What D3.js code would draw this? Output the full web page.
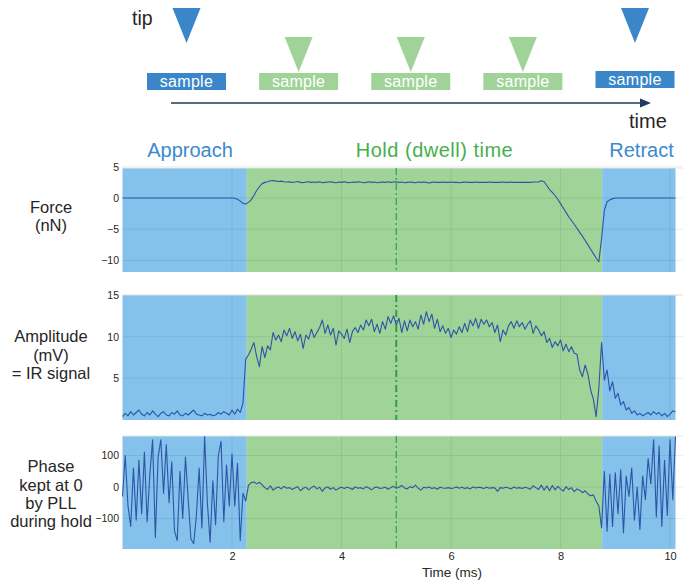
<!DOCTYPE html>
<html><head><meta charset="utf-8">
<script src="https://cdn.jsdelivr.net/npm/d3@7"></script>
<style>body{margin:0;background:#fff} text{font-family:"Liberation Sans",Arial,sans-serif}</style>
</head><body><svg id="c" width="687" height="583"></svg>
<script>
// ---------------- DATA ----------------
const dt = 0.05; // ms between samples
const force = [
 0,0,0,0,0,0,0,0,0,0,0,0,0,0,0,0,0,0,0,0,0,0,0,0,0,0,0,0,0,0,0,0,0,0,0,0,0,0,0,0,
 0,-0.05,-0.2,-0.5,-0.85,-0.95,-0.7,-0.3,0.4,1.2,1.8,2.3,2.5,2.6,2.75,2.8,2.7,2.65,2.7,2.6,
 2.55,2.6,2.5,2.55,2.65,2.5,2.45,2.55,2.6,2.5,2.55,2.5,2.6,2.45,2.5,2.55,2.6,2.5,2.45,2.55,
 2.5,2.6,2.5,2.45,2.55,2.5,2.6,2.55,2.45,2.5,2.6,2.5,2.55,2.45,2.5,2.55,2.5,2.6,2.5,2.55,
 2.6,2.5,2.55,2.45,2.5,2.55,2.5,2.45,2.55,2.5,2.55,2.5,2.4,2.5,2.55,2.5,2.5,2.55,2.5,2.5,
 2.55,2.5,2.5,2.45,2.5,2.55,2.5,2.5,2.5,2.55,2.5,2.5,2.5,2.5,2.55,2.5,2.5,2.5,2.5,2.55,
 2.5,2.5,2.55,2.5,2.5,2.5,2.5,2.5,2.5,2.5,2.55,2.55,2.55,2.75,2.6,2.0,1.35,0.9,0.4,-0.2,
 -0.9,-1.6,-2.3,-3.0,-3.6,-4.2,-4.85,-5.5,-6.1,-6.8,-7.5,-8.2,-8.9,-9.6,-10.2,-6.5,-2.0,-0.6,-0.3,-0.1,
 0,0,0,0,0,0,0,0,0,0,0,0,0,0,0,0,0,0,0,0,0,0,0
];
const amplitude = [
 0.4,0.8,0.5,1.0,0.6,0.9,1.2,0.7,0.5,0.9,0.6,1.1,0.7,0.4,0.8,1.0,0.6,0.5,0.9,0.7,1.1,0.6,
 0.5,0.8,0.6,0.9,1.2,0.7,0.6,0.5,0.8,0.6,0.7,0.5,0.6,0.9,0.7,1.0,0.8,0.6,1.2,0.7,1.3,0.9,
 2.0,7.3,
 7.8,8.5,9.3,7.6,6.4,8.8,7.5,8.9,8.4,10.5,9.6,10.2,9.4,10.8,10.1,11.0,9.8,10.6,9.5,10.3,
 8.6,10.2,9.7,10.9,9.9,10.5,11.1,12.0,10.4,11.4,10.2,11.0,9.0,10.7,10.3,9.8,10.9,9.3,10.6,11.1,
 10.5,11.4,10.8,12.0,11.3,12.1,10.6,11.5,10.4,11.8,10.9,12.4,11.6,12.5,11.4,12.2,10.5,11.9,10.7,12.0,
 11.2,11.8,10.9,12.6,11.5,13.0,11.8,12.7,11.0,12.1,10.6,11.3,10.4,11.0,9.9,10.8,10.3,11.2,10.5,11.6,
 10.6,12.0,11.3,12.2,11.0,12.1,11.5,12.0,11.2,11.7,10.5,11.4,9.4,10.8,10.2,11.3,11.8,11.0,11.9,11.2,
 11.7,10.9,11.5,11.9,10.4,11.3,10.8,10.1,10.6,9.3,9.8,8.7,9.4,8.9,9.6,8.3,9.1,8.2,8.8,8.0,
 7.9,6.0,5.2,6.6,5.5,3.6,2.5,0.4,3.8,9.3,4.8,6.0,3.5,4.6,2.6,3.2,1.8,2.2,1.2,1.5,
 0.8,1.1,0.6,0.8,0.5,0.7,0.9,0.6,1.0,0.7,0.9,0.5,0.8,0.4,0.7,1.1,1.0
];
const phase = [
 -30,100,-60,-125,60,-105,85,-85,110,-110,40,150,-160,95,150,-20,135,-50,80,-140,-170,50,-100,
 95,-40,-165,-180,-90,60,-130,160,-50,-175,20,-120,100,145,-110,70,-60,105,-60,75,-170,-20,-45,
 5,14,16,10,15,7,-2,-8,4,-10,-3,0,-6,2,-4,
 -2,-8,-3,1,-12,-4,-1,-9,-2,3,-6,-1,-14,-3,0,-7,-2,-10,-4,-1,
 -5,-1,-3,-8,0,-4,-2,-6,1,-3,-9,-2,0,-5,-3,-1,-7,-2,2,-4,
 -1,5,-3,-6,1,-2,6,-4,-10,-1,-3,0,-5,-2,-7,-1,-3,-4,-2,-5,
 -3,0,-4,-1,-5,-2,-6,0,-3,-1,-2,-5,-1,-4,-2,-3,-14,-2,-4,-1,
 -3,-6,0,-4,-2,-5,-1,-3,-7,4,-2,-8,6,-10,3,-12,5,-9,2,-6,
 -13,1,-8,-2,-15,-6,-10,-18,-12,-22,-28,-25,-45,-60,
 -130,50,-140,40,-125,45,-85,55,-145,35,-30,60,-105,0,-135,35,-40,90,10,150,-95,130,-125,85,-90,150,-40,160
];
const regions = [
  {name:"Approach", start:0, end:2.27, kind:"move"},
  {name:"Hold (dwell) time", start:2.27, end:8.76, kind:"hold"},
  {name:"Retract", start:8.76, end:10.1, kind:"move"}
];
const dwellMid = 5.0;
const xTicks = [2,4,6,8,10];
const forceTicks = [5,0,-5,-10];
const ampTicks = [15,10,5];
const phaseTicks = [100,0,-100];
const steps = ["move","hold","hold","hold","move"];
const panelLabels = [["Force","(nN)"],["Amplitude","(mV)","= IR signal"],["Phase","kept at 0","by PLL","during hold"]];

// ---------------- STYLE ----------------
const C = {blueFill:"#84c1eb", greenFill:"#9fd398", blueText:"#3b8ad0", greenText:"#45b04b",
  tri:"#3a86c8", triGreen:"#9fd398", line:"#2c55a7", dash:"#2ea043", text:"#262626", arrow:"#1f3a60"};

const svg = d3.select("#c");
const x = d3.scaleLinear().domain([0,10.1]).range([122.5,675.5]);
const times = force.map((d,i)=>i*dt);

const panels = [
  {data:force, top:168, bottom:272, domain:[-11.84,4.8], ticks:forceTicks, dashW:1.2, labelY:[213,231]},
  {data:amplitude, top:295, bottom:420, domain:[0,15], ticks:ampTicks, dashW:2, labelY:[342,361,379]},
  {data:phase, top:436, bottom:549, domain:[-196.8,161.9], ticks:phaseTicks, dashW:1.2, labelY:[472,491,509,527]}
];

panels.forEach((p,pi)=>{
  const y = d3.scaleLinear().domain(p.domain).range([p.bottom,p.top]);
  const g = svg.append("g");
  g.selectAll("rect.reg").data(regions).join("rect")
    .attr("x",d=>x(d.start)).attr("width",d=>x(d.end)-x(d.start))
    .attr("y",p.top).attr("height",p.bottom-p.top)
    .attr("fill",d=>d.kind==="hold"?C.greenFill:C.blueFill);
  g.selectAll("line.hg").data(p.ticks).join("line")
    .attr("x1",x(0)).attr("x2",683).attr("y1",d=>y(d)).attr("y2",d=>y(d))
    .attr("stroke","rgba(0,0,0,0.07)");
  g.selectAll("line.vg").data(xTicks).join("line")
    .attr("x1",d=>x(d)).attr("x2",d=>x(d)).attr("y1",p.top).attr("y2",p.bottom)
    .attr("stroke","rgba(0,0,0,0.07)");
  g.append("line").attr("x1",x(0)).attr("x2",683).attr("y1",p.top).attr("y2",p.top)
    .attr("stroke","#e6e6e6");
  const ax = d3.axisLeft(y).tickValues(p.ticks).tickSize(0).tickPadding(2);
  const ag = svg.append("g").attr("transform","translate(121,0)").call(ax);
  ag.select(".domain").remove();
  ag.selectAll("text").attr("font-size",10.5).attr("fill",C.text).attr("font-family","Liberation Sans, Arial");
  g.append("line").attr("x1",x(dwellMid)).attr("x2",x(dwellMid)).attr("y1",p.top).attr("y2",p.bottom)
    .attr("stroke",C.dash).attr("stroke-width",p.dashW).attr("stroke-dasharray","7,3,2,3");
  g.append("path").datum(p.data)
    .attr("d",d3.line().x((d,i)=>x(times[i])).y(d=>y(d)))
    .attr("fill","none").attr("stroke",C.line).attr("stroke-width",1.1).attr("stroke-linejoin","round");
  svg.append("g").selectAll("text").data(panelLabels[pi]).join("text")
    .attr("x",51).attr("y",(d,i)=>p.labelY[i]).attr("text-anchor","middle")
    .attr("font-size",16.5).attr("fill",C.text).text(d=>d);
});

const xa = svg.append("g").attr("transform","translate(0,548)")
  .call(d3.axisBottom(x).tickValues(xTicks).tickSize(0).tickPadding(4));
xa.select(".domain").remove();
xa.selectAll("text").attr("font-size",11).attr("fill",C.text).attr("font-family","Liberation Sans, Arial");
svg.append("text").attr("x",452).attr("y",577).attr("text-anchor","middle")
  .attr("font-size",13.5).attr("fill",C.text).text("Time (ms)");

const titleX = [190, 434.5, 641.5];
svg.selectAll("text.sec").data(regions).join("text")
  .attr("x",(d,i)=>titleX[i]).attr("y",157).attr("text-anchor","middle")
  .attr("font-size",20).attr("letter-spacing",d=>d.kind==="hold"?0.5:0)
  .attr("fill",d=>d.kind==="hold"?C.greenText:C.blueText).text(d=>d.name);

const sx = d3.scalePoint().domain(d3.range(steps.length)).range([186.5,635]);
const topG = svg.append("g");
steps.forEach((k,i)=>{
  const cx = sx(i);
  const isMove = k==="move";
  const ty = isMove ? 8 : 37, tb = isMove ? 43 : 72;
  topG.append("path").attr("d",`M${cx-14},${ty}L${cx+14},${ty}L${cx},${tb}Z`)
    .attr("fill",isMove?C.tri:C.triGreen);
  const by = i===4 ? 71 : 73;
  topG.append("rect").attr("x",cx-39.5).attr("y",by).attr("width",79).attr("height",17)
    .attr("fill",isMove?C.tri:C.triGreen);
  topG.append("text").attr("x",cx).attr("y",by+14).attr("text-anchor","middle")
    .attr("font-size",16).attr("letter-spacing",0.3).attr("fill","#fff").text("sample");
});
topG.append("line").attr("x1",171).attr("x2",642).attr("y1",103).attr("y2",103)
  .attr("stroke",C.arrow).attr("stroke-width",1.5);
topG.append("path").attr("d","M640,98.5L651,103L640,107.5Z").attr("fill",C.arrow);
topG.append("text").attr("x",132).attr("y",25).attr("font-size",19.5).attr("fill",C.text).text("tip");
topG.append("text").attr("x",629).attr("y",128).attr("font-size",20).attr("fill",C.text).text("time");
</script></body></html>
